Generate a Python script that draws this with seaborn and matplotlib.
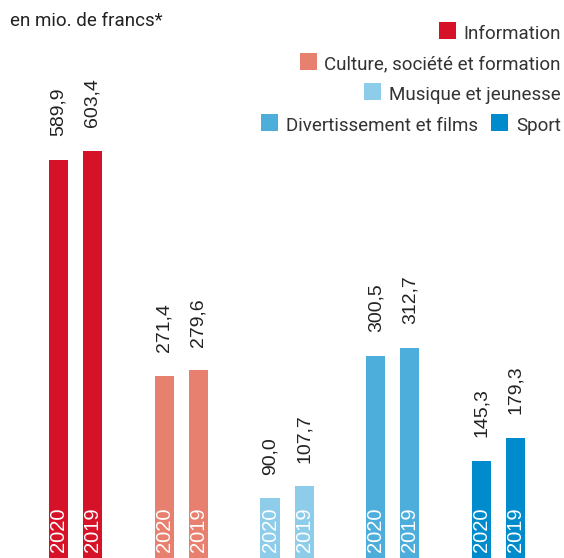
import matplotlib
matplotlib.use("Agg")
import matplotlib.pyplot as plt
import seaborn as sns
import pandas as pd
from matplotlib.patches import Rectangle

categories = ["Information", "Culture, société et formation", "Musique et jeunesse",
              "Divertissement et films", "Sport"]
values_2020 = [589.9, 271.4, 90.0, 300.5, 145.3]
values_2019 = [603.4, 279.6, 107.7, 312.7, 179.3]
years = ["2020", "2019"]
colors = ["#d61229", "#e8806f", "#8ecdea", "#4eaedb", "#008ccc"]
unit_label = "en mio. de francs*"
legend_rows = [[0], [1], [2], [3, 4]]


def fmt(v):
    return f"{v:.1f}".replace(".", ",")


sns.set_theme(style="white")
plt.rcParams["font.family"] = ["Roboto", "DejaVu Sans"]
num_font = "Liberation Sans"

df = pd.DataFrame({
    "cat": categories * 2,
    "val": values_2020 + values_2019,
    "year": [years[0]] * len(categories) + [years[1]] * len(categories),
})

W, H = 564, 558
fig = plt.figure(figsize=(W / 100, H / 100), dpi=100)
ax = fig.add_axes([0, 0, 1, 1])
sns.barplot(data=df, x="cat", y="val", hue="year", hue_order=years, order=categories,
            width=0.643, gap=0.441, errorbar=None, saturation=1, legend=False, ax=ax)

for k, cont in enumerate(ax.containers):
    for bar in cont:
        cx = bar.get_x() + bar.get_width() / 2
        i = int(round(cx))
        bar.set_facecolor(colors[i])
        bar.set_edgecolor("none")
        h = bar.get_height()
        ax.annotate(fmt(h), (cx, h), xytext=(0, 17), textcoords="offset points",
                    rotation=90, ha="center", va="bottom", fontsize=14,
                    family=num_font, color="#222222", annotation_clip=False)
        ax.annotate(years[k], (cx, 0), xytext=(0, 5), textcoords="offset points",
                    rotation=90, ha="center", va="bottom", fontsize=14.5,
                    family=num_font, color="white", annotation_clip=False,
                    zorder=5)

ax.set_xlim(-0.7127, 4.618)
ax.set_ylim(2.07, 826.3)
ax.axis("off")

fig.text(10 / W, 1 - 26 / H, unit_label, ha="left", va="baseline",
         fontsize=13.5, color="#222222")

renderer = fig.canvas.get_renderer()
row_base = [39, 69.6, 100.2, 130.8]
sq = 17
for row, base in zip(legend_rows, row_base):
    x_right = 561
    for idx in reversed(row):
        t = fig.text(x_right / W, 1 - base / H, categories[idx], ha="right",
                     va="baseline", fontsize=13.5, color="#333333")
        bb = t.get_window_extent(renderer)
        sq_right = bb.x0 - 8
        rect = Rectangle(((sq_right - sq) / W, (H - base) / H), sq / W, sq / H,
                         transform=fig.transFigure, facecolor=colors[idx],
                         edgecolor="none")
        fig.add_artist(rect)
        x_right = sq_right - sq - 13

fig.savefig("out.png", dpi=100)
